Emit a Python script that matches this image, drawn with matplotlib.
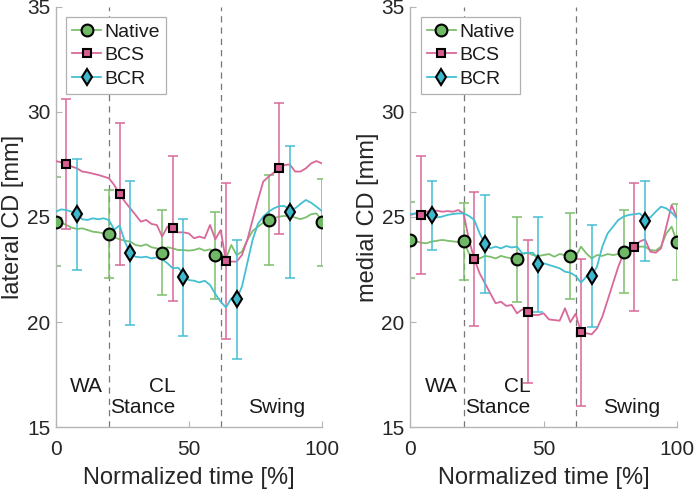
import matplotlib
matplotlib.use("Agg")
import matplotlib.pyplot as plt
import numpy as np

plt.rcParams['font.family'] = ['Liberation Sans', 'DejaVu Sans']

# ---- data ----
t = list(range(0, 101, 2))

lat_native = [24.78, 24.73, 24.62, 24.49, 24.43, 24.46, 24.38, 24.30, 24.27, 24.22,
              24.19, 24.03, 23.94, 23.87, 23.83, 23.67, 23.62, 23.70, 23.56, 23.51,
              23.40, 23.56, 23.51, 23.43, 23.43, 23.40, 23.43, 23.51, 23.40, 23.46,
              23.30, 23.27, 23.03, 23.67, 23.19, 23.35, 23.90, 24.33, 24.54, 24.73,
              24.84, 24.94, 25.02, 25.05, 25.05, 24.97, 24.90, 24.98, 25.13, 25.17, 24.85]
lat_bcs = [27.66, 27.60, 27.52, 27.40, 27.31, 27.16, 27.12, 27.06, 27.00, 26.92,
           26.84, 26.52, 26.08, 25.73, 25.41, 25.10, 24.78, 24.86, 24.67, 24.62,
           24.07, 24.54, 24.46, 24.27, 24.27, 24.22, 23.99, 24.07, 23.99, 24.62,
           23.94, 24.38, 22.91, 22.88, 22.88, 23.19, 23.90, 24.86, 25.81, 26.68,
           26.92, 27.11, 27.31, 27.47, 27.50, 27.16, 27.16, 27.31, 27.55, 27.66, 27.55]
lat_bcr = [25.25, 25.36, 25.33, 25.25, 25.13, 24.89, 24.86, 24.94, 24.89, 24.94,
           24.85, 24.40, 24.60, 23.83, 23.27, 23.11, 23.08, 23.11, 23.03, 23.08,
           22.99, 22.80, 22.56, 22.59, 22.30, 22.00, 21.97, 21.89, 21.97, 21.77,
           21.34, 20.97, 20.70, 21.13, 21.09, 21.69, 22.80, 23.91, 24.67, 25.02,
           25.25, 25.41, 25.52, 25.52, 25.35, 25.41, 25.62, 25.81, 25.68, 25.49, 25.29]

med_native = [23.91, 23.84, 23.78, 23.75, 23.83, 23.87, 23.91, 23.87, 23.84, 23.81,
              23.84, 23.27, 23.08, 23.03, 23.15, 23.11, 23.03, 23.15, 23.08, 23.03,
              23.00, 23.24, 23.30, 23.19, 23.15, 23.19, 23.24, 23.11, 23.24, 23.19,
              23.16, 23.11, 23.59, 23.27, 23.03, 23.19, 23.15, 23.24, 23.19, 23.24,
              23.35, 23.51, 23.59, 23.59, 23.59, 23.43, 23.40, 23.59, 24.22, 24.54, 23.80]
med_bcs = [25.10, 25.17, 25.10, 25.25, 25.30, 25.30, 25.25, 25.28, 25.25, 25.33,
           25.17, 23.91, 23.00, 22.32, 21.85, 21.37, 20.90, 20.97, 20.77, 20.82,
           20.42, 20.61, 20.50, 20.34, 20.34, 20.42, 20.13, 20.10, 20.07, 20.66,
           20.00, 20.40, 19.52, 19.47, 19.42, 19.70, 20.26, 21.05, 21.85, 22.64,
           23.27, 23.51, 23.59, 23.83, 23.94, 23.35, 23.30, 23.51, 24.54, 25.57, 24.94]
med_bcr = [25.14, 25.17, 25.14, 25.10, 25.08, 24.98, 25.02, 25.10, 25.14, 25.17,
           25.17, 25.05, 24.86, 24.22, 23.72, 23.51, 23.59, 23.51, 23.62, 23.55,
           23.59, 23.27, 23.30, 23.30, 22.95, 22.80, 22.72, 22.64, 22.56, 22.40,
           22.35, 22.20, 21.88, 22.16, 22.20, 22.64, 23.59, 24.22, 24.54, 24.86,
           25.02, 25.10, 25.13, 25.17, 24.94, 24.98, 25.25, 25.49, 25.41, 25.21, 24.94]

# marker / error-bar points
native_t = [0, 20, 40, 60, 80, 100]
bcs_t = [4, 24, 44, 64, 84]
bcr_t = [8, 28, 48, 68, 88]

lat_native_m = [24.78, 24.19, 23.30, 23.19, 24.84, 24.75]
lat_native_sd = [2.10, 2.10, 2.03, 2.07, 2.14, 2.07]
lat_bcs_m = [27.52, 26.08, 24.46, 22.91, 27.31]
lat_bcs_sd = [3.11, 3.37, 3.46, 3.69, 3.13]
lat_bcr_m = [25.13, 23.27, 22.13, 21.09, 25.24]
lat_bcr_sd = [2.63, 3.42, 2.79, 2.83, 3.13]

med_native_m = [23.91, 23.84, 22.99, 23.16, 23.35, 23.80]
med_native_sd = [1.80, 1.82, 2.01, 2.05, 1.98, 1.80]
med_bcs_m = [25.10, 23.00, 20.50, 19.52, 23.59]
med_bcs_sd = [2.79, 3.18, 3.40, 3.49, 3.04]
med_bcr_m = [25.08, 23.72, 22.75, 22.20, 24.81]
med_bcr_sd = [1.65, 2.34, 2.26, 2.44, 1.92]

phase_bounds = [20, 62]
labels = ["Native", "BCS", "BCR"]
ylabels = ["lateral CD [mm]", "medial CD [mm]"]

c_nat = '#7dbf6c'
c_bcs = '#d9689a'
c_bcr = '#45bfd3'
f_nat = '#6fb866'
f_bcs = '#d65f8f'
f_bcr = '#3db8cc'

fig = plt.figure(figsize=(6.94, 4.91), dpi=100)
ax1 = fig.add_axes([0.0803, 0.1297, 0.3833, 0.8567])
ax2 = fig.add_axes([0.5912, 0.1297, 0.3843, 0.8567])

panels = [
    (ax1, lat_native, lat_bcs, lat_bcr, lat_native_m, lat_native_sd, lat_bcs_m, lat_bcs_sd,
     lat_bcr_m, lat_bcr_sd, ylabels[0]),
    (ax2, med_native, med_bcs, med_bcr, med_native_m, med_native_sd, med_bcs_m, med_bcs_sd,
     med_bcr_m, med_bcr_sd, ylabels[1]),
]

for (ax, nat, bcs, bcr, nm, nsd, bm, bsd, rm, rsd, ylab) in panels:
    for xb in phase_bounds:
        ax.axvline(xb, color='#777777', lw=0.9, ls=(0, (5, 4)), zorder=1)
    series = [
        (nat, nm, nsd, native_t, c_nat, f_nat, 'o', 8.5, labels[0]),
        (bcs, bm, bsd, bcs_t, c_bcs, f_bcs, 's', 5.5, labels[1]),
        (bcr, rm, rsd, bcr_t, c_bcr, f_bcr, 'd', 8.5, labels[2]),
    ]
    for k, (line, m, sd, mt, c, fc, mk, ms, lab) in enumerate(series):
        ax.errorbar(mt, m, yerr=sd, fmt='none', ecolor=c, elinewidth=1.1,
                    capsize=3.5, capthick=1.1, zorder=2 + k)
        ax.plot(t, line, color=c, lw=1.3, zorder=3 + k)
        ax.plot(mt, m, ls='none', marker=mk, ms=ms, mfc=fc, mec='black',
                mew=1.5, zorder=6 + k)
        ax.plot([], [], color=c, lw=1.3, marker=mk, ms=ms, mfc=fc, mec='black',
                mew=1.5, label=lab)

    ax.set_xlim(0, 100)
    ax.set_ylim(15, 35)
    ax.set_xticks([0, 50, 100])
    ax.set_yticks([15, 20, 25, 30, 35])
    for s in ['top', 'right']:
        ax.spines[s].set_visible(False)
    for s in ['left', 'bottom']:
        ax.spines[s].set_color('#b5b5b5')
        ax.spines[s].set_linewidth(1.0)
    ax.tick_params(direction='in', length=4, width=0.8, color='#b5b5b5',
                   labelsize=15, labelcolor='#262626')
    ax.tick_params(axis='x', pad=9)
    ax.tick_params(axis='y', pad=4)
    ax.set_xlabel("Normalized time [%]", fontsize=17, color='#262626', labelpad=6)
    ax.set_ylabel(ylab, fontsize=17, color='#262626', labelpad=2)

    ax.text(11.5, 16.93, "WA", fontsize=15, ha='center', va='center', color='#1a1a1a')
    ax.text(40.2, 16.93, "CL", fontsize=15, ha='center', va='center', color='#1a1a1a')
    ax.text(32.7, 15.95, "Stance", fontsize=15, ha='center', va='center', color='#1a1a1a')
    ax.text(83.0, 15.95, "Swing", fontsize=15, ha='center', va='center', color='#1a1a1a')

    leg = ax.legend(loc='upper left', fontsize=14, handlelength=1.5, handletextpad=0.15,
                    borderpad=0.3, labelspacing=0.3, borderaxespad=0.55, fancybox=False,
                    framealpha=1, edgecolor='#b0b0b0')
    leg.get_frame().set_linewidth(0.9)
    for txt in leg.get_texts():
        txt.set_color('#1a1a1a')

fig.savefig("out.png", dpi=100)
